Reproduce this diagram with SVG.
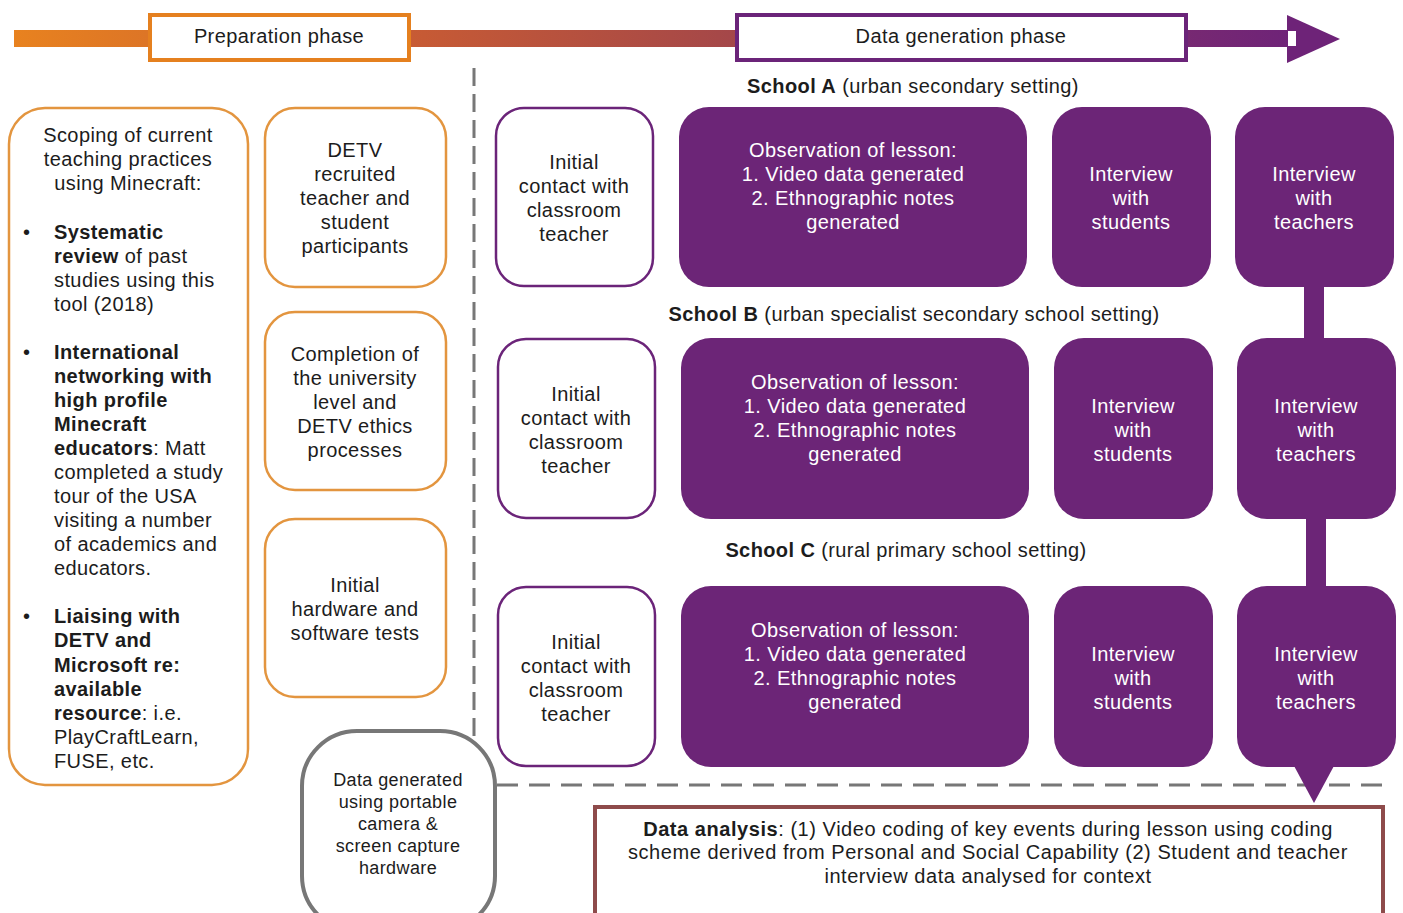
<svg xmlns="http://www.w3.org/2000/svg" width="1403" height="913" viewBox="0 0 1403 913">
<defs>
<linearGradient id="bar" gradientUnits="userSpaceOnUse" x1="14" y1="0" x2="1295" y2="0">
<stop offset="0" stop-color="#e8821f"/>
<stop offset="0.32" stop-color="#c65a35"/>
<stop offset="0.55" stop-color="#a64848"/>
<stop offset="0.8" stop-color="#83306a"/>
<stop offset="1" stop-color="#6e2378"/>
</linearGradient>
<style>
.t{font-family:"Liberation Sans",Arial,Helvetica,sans-serif;font-size:20px;fill:#1c1c1c;letter-spacing:0.4px;text-anchor:middle}
.l{font-family:"Liberation Sans",Arial,Helvetica,sans-serif;font-size:20px;fill:#1c1c1c;letter-spacing:0.4px}
.w{fill:#ffffff}
.b{font-weight:bold}
.ob{fill:#ffffff;stroke:#e3953f;stroke-width:2.5}
.pb{fill:#ffffff;stroke:#6b2479;stroke-width:2.5}
.pf{fill:#6c2577}
.dash{stroke:#777777;stroke-width:3;fill:none}
</style>
</defs>

<g id="timeline">
<rect x="14" y="30" width="1280" height="17" fill="url(#bar)"/>
<polygon points="1287,15 1340,39 1287,63" fill="#6e2378"/>
<rect x="1288" y="31" width="8" height="15" fill="#ffffff"/>
</g>
<g id="prep-phase">
<rect x="150" y="15" width="259" height="45" fill="#ffffff" stroke="#e5801f" stroke-width="4"/>
<text class="t" x="279" y="43">Preparation phase</text>
</g>
<g id="data-phase">
<rect x="737" y="15" width="449" height="45" fill="#ffffff" stroke="#6b2479" stroke-width="4"/>
<text class="t" x="961" y="43">Data generation phase</text>
</g>

<g id="dividers">
<line class="dash" x1="474" y1="68" x2="474" y2="745" stroke-dasharray="18 8"/>
<line class="dash" x1="497" y1="785" x2="1385" y2="785" stroke-dasharray="21 11"/>
</g>

<g id="scoping">
<rect class="ob" x="9" y="108" width="239" height="677" rx="36"/>
<text class="t" x="128"><tspan x="128" y="142">Scoping of current</tspan><tspan x="128" y="166">teaching practices</tspan><tspan x="128" y="190">using Minecraft:</tspan></text>
<text class="l" x="23" y="239">•</text>
<text class="l" x="54" y="239"><tspan class="b">Systematic</tspan></text>
<text class="l" x="54" y="263"><tspan class="b">review</tspan> of past</text>
<text class="l" x="54" y="287">studies using this</text>
<text class="l" x="54" y="311">tool (2018)</text>
<text class="l" x="23" y="359">•</text>
<text class="l" x="54" y="359"><tspan class="b">International</tspan></text>
<text class="l" x="54" y="383"><tspan class="b">networking with</tspan></text>
<text class="l" x="54" y="407"><tspan class="b">high profile</tspan></text>
<text class="l" x="54" y="431"><tspan class="b">Minecraft</tspan></text>
<text class="l" x="54" y="455"><tspan class="b">educators</tspan>: Matt</text>
<text class="l" x="54" y="479">completed a study</text>
<text class="l" x="54" y="503">tour of the USA</text>
<text class="l" x="54" y="527">visiting a number</text>
<text class="l" x="54" y="551">of academics and</text>
<text class="l" x="54" y="575">educators.</text>
<text class="l" x="23" y="623">•</text>
<text class="l" x="54" y="623"><tspan class="b">Liaising with</tspan></text>
<text class="l" x="54" y="647"><tspan class="b">DETV and</tspan></text>
<text class="l" x="54" y="672"><tspan class="b">Microsoft re:</tspan></text>
<text class="l" x="54" y="696"><tspan class="b">available</tspan></text>
<text class="l" x="54" y="720"><tspan class="b">resource</tspan>: i.e.</text>
<text class="l" x="54" y="744">PlayCraftLearn,</text>
<text class="l" x="54" y="768">FUSE, etc.</text>
</g>

<g id="recruit">
<rect class="ob" x="265" y="108" width="181" height="179" rx="30"/>
<text class="t"><tspan x="355" y="157">DETV</tspan><tspan x="355" y="181">recruited</tspan><tspan x="355" y="205">teacher and</tspan><tspan x="355" y="229">student</tspan><tspan x="355" y="253">participants</tspan></text>
</g>
<g id="ethics">
<rect class="ob" x="265" y="312" width="181" height="178" rx="30"/>
<text class="t"><tspan x="355" y="361">Completion of</tspan><tspan x="355" y="385">the university</tspan><tspan x="355" y="409">level and</tspan><tspan x="355" y="433">DETV ethics</tspan><tspan x="355" y="457">processes</tspan></text>
</g>
<g id="hardware">
<rect class="ob" x="265" y="519" width="181" height="178" rx="30"/>
<text class="t"><tspan x="355" y="592">Initial</tspan><tspan x="355" y="616">hardware and</tspan><tspan x="355" y="640">software tests</tspan></text>
</g>

<g id="portable">
<rect x="302" y="731" width="193" height="200" rx="55" fill="#ffffff" stroke="#777777" stroke-width="4"/>
<text class="t" style="font-size:18px"><tspan x="398" y="786">Data generated</tspan><tspan x="398" y="808">using portable</tspan><tspan x="398" y="830">camera &amp;</tspan><tspan x="398" y="852">screen capture</tspan><tspan x="398" y="874">hardware</tspan></text>
</g>

<g id="schoolA-label"><text class="t" x="913" y="93"><tspan class="b">School A</tspan> (urban secondary setting)</text></g>
<g id="schoolB-label"><text class="t" x="914" y="321"><tspan class="b">School B</tspan> (urban specialist secondary school setting)</text></g>
<g id="schoolC-label"><text class="t" x="906" y="557"><tspan class="b">School C</tspan> (rural primary school setting)</text></g>

<g id="connectors">
<rect x="1304" y="284" width="20" height="58" fill="#6c2577"/>
<rect x="1306" y="516" width="20" height="74" fill="#6c2577"/>
<polygon points="1293,764 1335,764 1314,803" fill="#6c2577"/>
</g>

<g id="A-initial">
<rect class="pb" x="496" y="108" width="157" height="178" rx="28"/>
<text class="t"><tspan x="574" y="169">Initial</tspan><tspan x="574" y="193">contact with</tspan><tspan x="574" y="217">classroom</tspan><tspan x="574" y="241">teacher</tspan></text>
</g>
<g id="A-obs">
<rect class="pf" x="679" y="107" width="348" height="180" rx="30"/>
<text class="t w"><tspan x="853" y="157">Observation of lesson:</tspan><tspan x="853" y="181">1. Video data generated</tspan><tspan x="853" y="205">2. Ethnographic notes</tspan><tspan x="853" y="229">generated</tspan></text>
</g>
<g id="A-students">
<rect class="pf" x="1052" y="107" width="159" height="180" rx="30"/>
<text class="t w"><tspan x="1131" y="181">Interview</tspan><tspan x="1131" y="205">with</tspan><tspan x="1131" y="229">students</tspan></text>
</g>
<g id="A-teachers">
<rect class="pf" x="1235" y="107" width="159" height="180" rx="30"/>
<text class="t w"><tspan x="1314" y="181">Interview</tspan><tspan x="1314" y="205">with</tspan><tspan x="1314" y="229">teachers</tspan></text>
</g>

<g id="B-initial">
<rect class="pb" x="498" y="339" width="157" height="179" rx="28"/>
<text class="t"><tspan x="576" y="401">Initial</tspan><tspan x="576" y="425">contact with</tspan><tspan x="576" y="449">classroom</tspan><tspan x="576" y="473">teacher</tspan></text>
</g>
<g id="B-obs">
<rect class="pf" x="681" y="338" width="348" height="181" rx="30"/>
<text class="t w"><tspan x="855" y="389">Observation of lesson:</tspan><tspan x="855" y="413">1. Video data generated</tspan><tspan x="855" y="437">2. Ethnographic notes</tspan><tspan x="855" y="461">generated</tspan></text>
</g>
<g id="B-students">
<rect class="pf" x="1054" y="338" width="159" height="181" rx="30"/>
<text class="t w"><tspan x="1133" y="413">Interview</tspan><tspan x="1133" y="437">with</tspan><tspan x="1133" y="461">students</tspan></text>
</g>
<g id="B-teachers">
<rect class="pf" x="1237" y="338" width="159" height="181" rx="30"/>
<text class="t w"><tspan x="1316" y="413">Interview</tspan><tspan x="1316" y="437">with</tspan><tspan x="1316" y="461">teachers</tspan></text>
</g>

<g id="C-initial">
<rect class="pb" x="498" y="587" width="157" height="179" rx="28"/>
<text class="t"><tspan x="576" y="649">Initial</tspan><tspan x="576" y="673">contact with</tspan><tspan x="576" y="697">classroom</tspan><tspan x="576" y="721">teacher</tspan></text>
</g>
<g id="C-obs">
<rect class="pf" x="681" y="586" width="348" height="181" rx="30"/>
<text class="t w"><tspan x="855" y="637">Observation of lesson:</tspan><tspan x="855" y="661">1. Video data generated</tspan><tspan x="855" y="685">2. Ethnographic notes</tspan><tspan x="855" y="709">generated</tspan></text>
</g>
<g id="C-students">
<rect class="pf" x="1054" y="586" width="159" height="181" rx="30"/>
<text class="t w"><tspan x="1133" y="661">Interview</tspan><tspan x="1133" y="685">with</tspan><tspan x="1133" y="709">students</tspan></text>
</g>
<g id="C-teachers">
<rect class="pf" x="1237" y="586" width="159" height="181" rx="30"/>
<text class="t w"><tspan x="1316" y="661">Interview</tspan><tspan x="1316" y="685">with</tspan><tspan x="1316" y="709">teachers</tspan></text>
</g>

<g id="analysis">
<rect x="595" y="807" width="788" height="130" fill="#ffffff" stroke="#8e4b4b" stroke-width="4"/>
<text class="t" style="letter-spacing:0.55px"><tspan x="988" y="836"><tspan class="b">Data analysis</tspan>: (1) Video coding of key events during lesson using coding</tspan><tspan x="988" y="859">scheme derived from Personal and Social Capability (2) Student and teacher</tspan><tspan x="988" y="883">interview data analysed for context</tspan></text>
</g>
</svg>
